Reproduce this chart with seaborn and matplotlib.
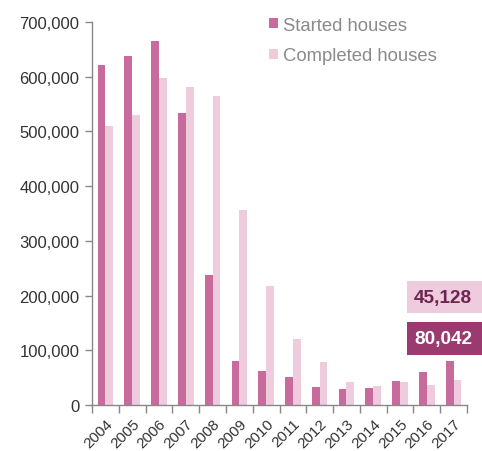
import matplotlib
matplotlib.use("Agg")
import matplotlib.pyplot as plt
import seaborn as sns
import pandas as pd
import numpy as np
from matplotlib.patches import Rectangle, Patch
from matplotlib.ticker import FuncFormatter, MultipleLocator, FixedLocator

years = ["2004", "2005", "2006", "2007", "2008", "2009", "2010",
         "2011", "2012", "2013", "2014", "2015", "2016", "2017"]
started = [622000, 637000, 666000, 533000, 238000, 80000, 62000,
           51000, 33500, 28600, 31000, 44000, 60000, 80042]
completed = [510000, 530000, 598000, 581000, 565000, 356000, 218000,
             121000, 79000, 42000, 35000, 42000, 37000, 45128]
series_names = ["Started houses", "Completed houses"]
box_labels = ["45,128", "80,042"]

c_started = "#C96A9C"
c_completed = "#EECBDD"
c_dark = "#9B3A6F"
c_darktext = "#6E2450"

sns.set_theme(style="white")
plt.rcParams["font.family"] = ["Liberation Sans", "DejaVu Sans"]

df = pd.DataFrame({
    "year": years * 2,
    "value": started + completed,
    "series": [series_names[0]] * len(years) + [series_names[1]] * len(years),
})

fig = plt.figure(figsize=(4.82, 4.52), dpi=100)
ax = fig.add_axes([92 / 482, 46 / 452, 375 / 482, 383 / 452])

sns.barplot(data=df, x="year", y="value", hue="series", order=years,
            hue_order=series_names, palette=[c_started, c_completed],
            width=0.58, gap=0, saturation=1, ax=ax, legend=False,
            edgecolor="none", linewidth=0)

ax.set_xlim(-0.5, len(years) - 0.5)
ax.set_ylim(0, 700000)
ax.set_xlabel("")
ax.set_ylabel("")

for s in ["top", "right"]:
    ax.spines[s].set_visible(False)
for s in ["left", "bottom"]:
    ax.spines[s].set_color("#888888")
    ax.spines[s].set_linewidth(1.0)

ax.yaxis.set_major_locator(MultipleLocator(100000))
ax.yaxis.set_major_formatter(FuncFormatter(lambda v, p: f"{int(v):,}"))
ax.tick_params(axis="y", which="major", left=True, length=5, width=1,
               color="#888888", labelsize=12, labelcolor="#333333", pad=4)

ax.set_xticks(range(len(years)))
ax.set_xticklabels(years, rotation=45, ha="right", rotation_mode="anchor")
ax.tick_params(axis="x", which="major", bottom=True, length=0,
               labelsize=11, labelcolor="#333333", pad=8)
ax.xaxis.set_minor_locator(FixedLocator(np.arange(-0.5, len(years), 1.0)))
ax.tick_params(axis="x", which="minor", bottom=True, length=6, width=1,
               color="#888888")

# legend
handles = [Patch(facecolor=c_started, edgecolor="none"),
           Patch(facecolor=c_completed, edgecolor="none")]
leg = fig.legend(handles, series_names, loc="upper left",
                 bbox_to_anchor=(252 / 482, 1 - 1 / 452), frameon=False,
                 fontsize=13.3, handlelength=0.5, handleheight=0.5,
                 handletextpad=0.3, labelspacing=0.75)
for t in leg.get_texts():
    t.set_color("#8a8a8a")

# value boxes
W, H = 482, 452
for (y0, y1, fc, tc, lab) in [(282, 314, c_completed, c_darktext, box_labels[0]),
                              (323, 356, c_dark, "white", box_labels[1])]:
    fig.patches.append(Rectangle((407 / W, 1 - y1 / H), 75 / W, (y1 - y0) / H,
                                 transform=fig.transFigure, facecolor=fc,
                                 edgecolor="none"))
    fig.text(443 / W, 1 - (y0 + y1) / 2 / H, lab, ha="center", va="center",
             fontsize=13.7, fontweight="bold", color=tc)

fig.savefig("out.png", dpi=100)
